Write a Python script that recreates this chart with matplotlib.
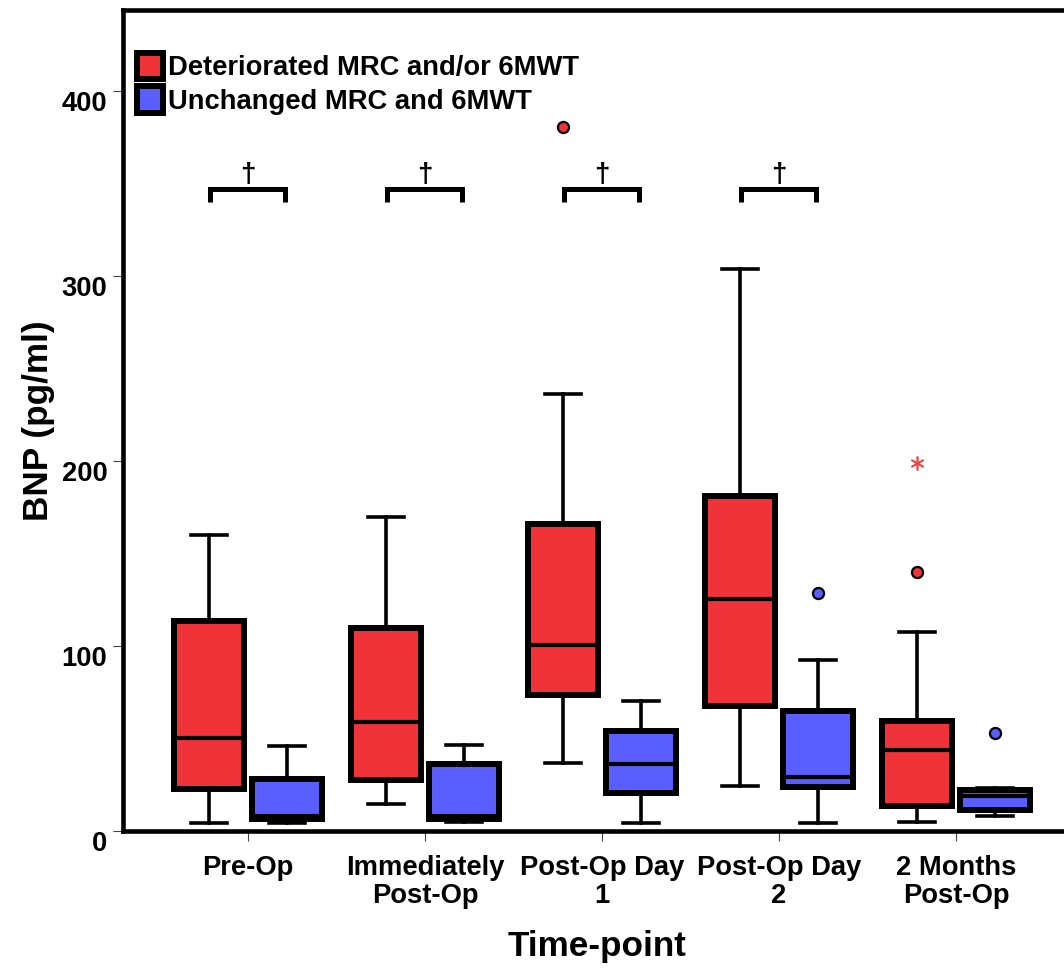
from matplotlib import pyplot as plt
from matplotlib.patches import Patch
import matplotlib.transforms as mtransforms
import numpy as np

plt.rcParams['font.family'] = ['Liberation Sans', 'DejaVu Sans']
plt.rcParams['font.weight'] = 'bold'

categories = ['Pre-Op', 'Immediately\nPost-Op', 'Post-Op Day\n1', 'Post-Op Day\n2', '2 Months\nPost-Op']

# Deteriorated MRC and/or 6MWT
det_whislo = [4.7, 14.8, 37.0, 24.7, 5.0]
det_q1 = [23.2, 28.0, 74.0, 68.0, 13.5]
det_med = [50.6, 59.0, 101.0, 125.4, 44.0]
det_q3 = [113.7, 110.0, 166.0, 181.5, 59.6]
det_whishi = [160.0, 170.0, 236.6, 304.0, 108.0]
det_outliers = [[], [], [381.0], [], [140.0]]
det_extremes = [[], [], [], [], [199.0]]

# Unchanged MRC and 6MWT
unc_whislo = [4.6, 5.0, 4.7, 4.7, 8.1]
unc_q1 = [6.5, 7.0, 20.7, 24.3, 11.6]
unc_med = [8.6, 8.6, 36.2, 29.7, 19.2]
unc_q3 = [28.6, 36.5, 54.2, 65.0, 22.5]
unc_whishi = [46.0, 46.8, 70.4, 92.8, 23.5]
unc_outliers = [[], [], [], [128.8], [53.0]]

significant = [True, True, True, True, False]

red = '#F03239'
blue = '#5B5EFF'

def stats(lo, q1, med, q3, hi, fl):
    return [dict(whislo=a, q1=b, med=c, q3=d, whishi=e, fliers=f)
            for a, b, c, d, e, f in zip(lo, q1, med, q3, hi, fl)]

fig = plt.figure(figsize=(10.64, 9.71), dpi=100)
ax = fig.add_axes([0.1156, 0.1437, 0.891, 0.8465])

x = np.arange(len(categories))
offset = 0.22
width = 0.40

for st, pos, col in [(stats(det_whislo, det_q1, det_med, det_q3, det_whishi, det_outliers), x - offset, red),
                     (stats(unc_whislo, unc_q1, unc_med, unc_q3, unc_whishi, unc_outliers), x + offset, blue)]:
    ax.bxp(st, positions=pos, widths=width, patch_artist=True, manage_ticks=False,
           boxprops=dict(facecolor=col, edgecolor='black', linewidth=4.3),
           medianprops=dict(color='black', linewidth=3.0),
           whiskerprops=dict(color='black', linewidth=2.6),
           capprops=dict(color='black', linewidth=2.6),
           flierprops=dict(marker='o', markerfacecolor=col, markeredgecolor='black',
                           markersize=8, markeredgewidth=1.6))

for i, ext in enumerate(det_extremes):
    for v in ext:
        ax.plot(x[i] - offset, v, marker=(6, 2, 0), color='#F04848', markersize=10,
                markeredgewidth=1.2, linestyle='none')

# significance brackets
for i, sig in enumerate(significant):
    if sig:
        x0, x1 = x[i] - 0.215, x[i] + 0.21
        ax.plot([x0, x0, x1, x1], [340, 347.5, 347.5, 340], color='black', lw=3.6,
                solid_joinstyle='miter', solid_capstyle='butt')
        ax.text(x[i], 351, '\u2020', ha='center', va='baseline', fontsize=20, fontweight='bold')

ax.set_xlim(-0.706, 4.65)
ax.set_ylim(0, 444.3)
ax.set_yticks([0, 100, 200, 300, 400])
ax.set_xticks(x)
ax.set_xticklabels(categories, fontsize=19.7, linespacing=1.08)
ax.tick_params(axis='both', direction='out', length=7.2, width=0.8, color='#444444',
               labelsize=19.7)
ax.tick_params(axis='x', pad=10)
ax.tick_params(axis='y', pad=4)
shift = mtransforms.ScaledTranslation(0, -7 / 72, fig.dpi_scale_trans)
for lab in ax.get_yticklabels():
    lab.set_transform(lab.get_transform() + shift)

for side in ['left', 'top', 'bottom']:
    ax.spines[side].set_linewidth(3.3)
ax.spines['right'].set_visible(False)

ax.set_ylabel('BNP (pg/ml)', fontsize=25.3, fontweight='bold')
ax.yaxis.set_label_coords(-0.0895, 0.5)
ax.yaxis.label.set_va('center')
ax.set_xlabel('Time-point', fontsize=25.3, fontweight='bold')
ax.xaxis.set_label_coords(0.5, -0.12)

handles = [Patch(facecolor=red, edgecolor='black', linewidth=4.3),
           Patch(facecolor=blue, edgecolor='black', linewidth=4.3)]
ax.legend(handles, ['Deteriorated MRC and/or 6MWT', 'Unchanged MRC and 6MWT'],
          loc='upper left', bbox_to_anchor=(137 / 1064, 1 - 53 / 971),
          bbox_transform=fig.transFigure, frameon=False, fontsize=19.7,
          handlelength=0.95, handleheight=1.1, handletextpad=0.2,
          labelspacing=0.18, borderpad=0, borderaxespad=0)

fig.savefig('out.png', dpi=100)
